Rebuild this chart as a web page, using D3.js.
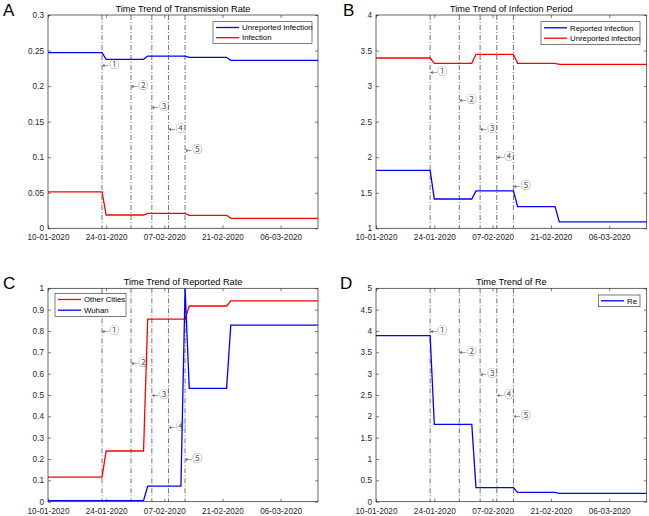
<!DOCTYPE html>
<html><head><meta charset="utf-8">
<script src="https://cdn.jsdelivr.net/npm/d3@7"></script>
<style>
body{margin:0;background:#fff;}
svg{display:block;}
text{font-family:"Liberation Sans",Arial,sans-serif;}
</style></head>
<body>
<svg id="chart" width="649" height="516"></svg>
<script>
// ---------- data ----------
const startDate = "10-01-2020";
const endDate = "15-03-2020";
const xTickLabels = ["10-01-2020","24-01-2020","07-02-2020","21-02-2020","06-03-2020"];
const eventDates = ["23-01-2020","30-01-2020","04-02-2020","08-02-2020","12-02-2020"];
const eventLabels = ["\u2460","\u2461","\u2462","\u2463","\u2464"];

// breakpoint dates shared by most series
const knotDates = ["10-01-2020","23-01-2020","24-01-2020","02-02-2020","03-02-2020","12-02-2020","13-02-2020","22-02-2020","23-02-2020","15-03-2020"];

// A: Time Trend of Transmission Rate
const transUnreported = [0.247,0.247,0.2377,0.2377,0.2423,0.2423,0.2405,0.2405,0.2363,0.2363];
const transInfection  = [0.0511,0.0511,0.0187,0.0187,0.0211,0.0211,0.0183,0.0183,0.0141,0.0141];
// B: Time Trend of Infection Period
const periodReported   = [1.816,1.816,1.412,1.412,1.525,1.525,1.304,1.304,1.089,1.089];
const periodUnreported = [3.395,3.395,3.32,3.32,3.447,3.447,3.32,3.32,3.306,3.306];
// C: Time Trend of Reported Rate
const rateOtherCities = [0.1156,0.1156,0.2375,0.2375,0.856,0.856,0.917,0.917,0.941,0.941];
const wuhanDates = ["10-01-2020","02-02-2020","03-02-2020","11-02-2020","12-02-2020","13-02-2020","22-02-2020","23-02-2020","15-03-2020"];
const rateWuhan = [0.005,0.005,0.073,0.073,1.0,0.531,0.531,0.827,0.827];
// D: Time Trend of Re
const reValues = [3.89,3.89,1.81,1.81,0.33,0.33,0.22,0.22,0.195,0.195];

// y axis ticks
const yTicksA = [0,0.05,0.1,0.15,0.2,0.25,0.3];
const yTicksB = [1,1.5,2,2.5,3,3.5,4];
const yTicksC = [0,0.1,0.2,0.3,0.4,0.5,0.6,0.7,0.8,0.9,1];
const yTicksD = [0,0.5,1,1.5,2,2.5,3,3.5,4,4.5,5];
// annotation heights (data units)
const annoA = [0.23,0.2,0.17,0.14,0.11];
const annoB = [3.2,2.8,2.4,2.0,1.6];
const annoC = [0.8,0.65,0.5,0.35,0.2];
const annoD = [4.0,3.5,3.0,2.5,2.0];

// ---------- drawing ----------
const parse = d3.timeParse("%d-%m-%Y");
const fmt = d3.timeFormat("%d-%m-%Y");
const svg = d3.select("#chart");
const BLUE = "#0000ff", RED = "#ff0000", AX = "#262626";

function panel(cfg){
  const g = svg.append("g");
  const x = d3.scaleTime().domain([parse(startDate), parse(endDate)]).range([cfg.x0, cfg.x1]);
  const y = d3.scaleLinear().domain(cfg.yDomain).range([cfg.y1, cfg.y0]);
  const xt = xTickLabels.map(parse);

  // event lines
  eventDates.forEach((d,i)=>{
    const xv = x(parse(d));
    g.append("line").attr("x1",xv).attr("x2",xv).attr("y1",cfg.y0).attr("y2",cfg.y1)
      .attr("stroke","#333").attr("stroke-width",0.7).attr("stroke-dasharray","5,2,1,2");
    const t = g.append("text").attr("x",xv+0.5).attr("y",y(cfg.anno[i])).attr("dy","0.35em")
      .attr("font-size",8.5).attr("fill","#555");
    t.append("tspan").attr("font-family","DejaVu Sans").attr("font-size",8).text("\u2190");
    t.append("tspan").attr("font-family","Noto Sans CJK SC, DejaVu Sans").attr("font-size",10).text(eventLabels[i]);
  });

  // series
  cfg.series.forEach(s=>{
    const pts = s.dates.map((d,i)=>[parse(d), s.values[i]]);
    g.append("path").datum(pts)
      .attr("fill","none").attr("stroke",s.color).attr("stroke-width",1.3)
      .attr("d", d3.line().x(p=>x(p[0])).y(p=>y(p[1])));
  });

  // axes
  const ax = (gen, tr)=>{
    const a = g.append("g").attr("transform",tr).call(gen);
    a.select(".domain").remove();
    a.selectAll(".tick line").attr("stroke",AX).attr("stroke-width",0.6);
    a.selectAll("text").attr("fill",AX).attr("font-size",8.2).attr("font-family","Liberation Sans, Arial, sans-serif");
    return a;
  };
  ax(d3.axisBottom(x).tickValues(xt).tickFormat(fmt).tickSize(-3).tickPadding(6), `translate(0,${cfg.y1})`);
  ax(d3.axisTop(x).tickValues(xt).tickFormat("").tickSize(-3), `translate(0,${cfg.y0})`);
  ax(d3.axisLeft(y).tickValues(cfg.yTicks).tickFormat(d3.format("~g")).tickSize(-3).tickPadding(4), `translate(${cfg.x0},0)`);
  ax(d3.axisRight(y).tickValues(cfg.yTicks).tickFormat("").tickSize(-3), `translate(${cfg.x1},0)`);
  g.append("rect").attr("x",cfg.x0).attr("y",cfg.y0).attr("width",cfg.x1-cfg.x0).attr("height",cfg.y1-cfg.y0)
    .attr("fill","none").attr("stroke",AX).attr("stroke-width",0.7);

  // title
  g.append("text").attr("x",(cfg.x0+cfg.x1)/2).attr("y",cfg.y0-3.5).attr("text-anchor","middle")
    .attr("font-size",9.2).attr("fill","#000").text(cfg.title);
  // panel letter
  g.append("text").attr("x",cfg.lx).attr("y",cfg.ly).attr("font-family","Liberation Serif, Times New Roman, serif")
    .attr("font-size",17).attr("fill","#000").text(cfg.letter);

  // legend
  const L = cfg.legend;
  g.append("rect").attr("x",L.x0).attr("y",L.y0).attr("width",L.x1-L.x0).attr("height",L.y1-L.y0)
    .attr("fill","#fff").attr("stroke","#262626").attr("stroke-width",0.6);
  cfg.series.forEach((s,i)=>{
    const ly = L.rows[i];
    g.append("line").attr("x1",L.lx0).attr("x2",L.lx1).attr("y1",ly).attr("y2",ly)
      .attr("stroke",s.color).attr("stroke-width",1.3);
    g.append("text").attr("x",L.tx).attr("y",ly).attr("dy","0.35em").attr("font-size",7.8)
      .attr("fill","#000").text(s.name);
  });
}

panel({x0:48,x1:318,y0:15,y1:228.3,yDomain:[0,0.3],yTicks:yTicksA,anno:annoA,
  title:"Time Trend of Transmission Rate",letter:"A",lx:3,ly:16,
  series:[{name:"Unreported Infection",dates:knotDates,values:transUnreported,color:BLUE},
          {name:"Infection",dates:knotDates,values:transInfection,color:RED}],
  legend:{x0:213,x1:312,y0:21.7,y1:43.3,rows:[27.5,37.7],lx0:216,lx1:239,tx:242}});

panel({x0:376,x1:646.7,y0:15,y1:228.3,yDomain:[1,4],yTicks:yTicksB,anno:annoB,
  title:"Time Trend of Infection Period",letter:"B",lx:343,ly:16,
  series:[{name:"Reported infection",dates:knotDates,values:periodReported,color:BLUE},
          {name:"Unreported infection",dates:knotDates,values:periodUnreported,color:RED}],
  legend:{x0:541,x1:640,y0:21.7,y1:44.3,rows:[27.8,38.2],lx0:544,lx1:567,tx:570}});

panel({x0:48,x1:318,y0:288.3,y1:501.7,yDomain:[0,1],yTicks:yTicksC,anno:annoC,
  title:"Time Trend of Reported Rate",letter:"C",lx:3,ly:289,
  series:[{name:"Other Cities",dates:knotDates,values:rateOtherCities,color:RED},
          {name:"Wuhan",dates:wuhanDates,values:rateWuhan,color:BLUE}],
  legend:{x0:55,x1:126,y0:293.3,y1:316.7,rows:[299.5,310.2],lx0:58,lx1:81,tx:84}});

panel({x0:376,x1:646.7,y0:288.3,y1:501.7,yDomain:[0,5],yTicks:yTicksD,anno:annoD,
  title:"Time Trend of Re",letter:"D",lx:340,ly:289,
  series:[{name:"Re",dates:knotDates,values:reValues,color:BLUE}],
  legend:{x0:598.3,x1:640,y0:295,y1:306.7,rows:[300.8],lx0:601,lx1:624,tx:627}});
</script>
</body></html>
